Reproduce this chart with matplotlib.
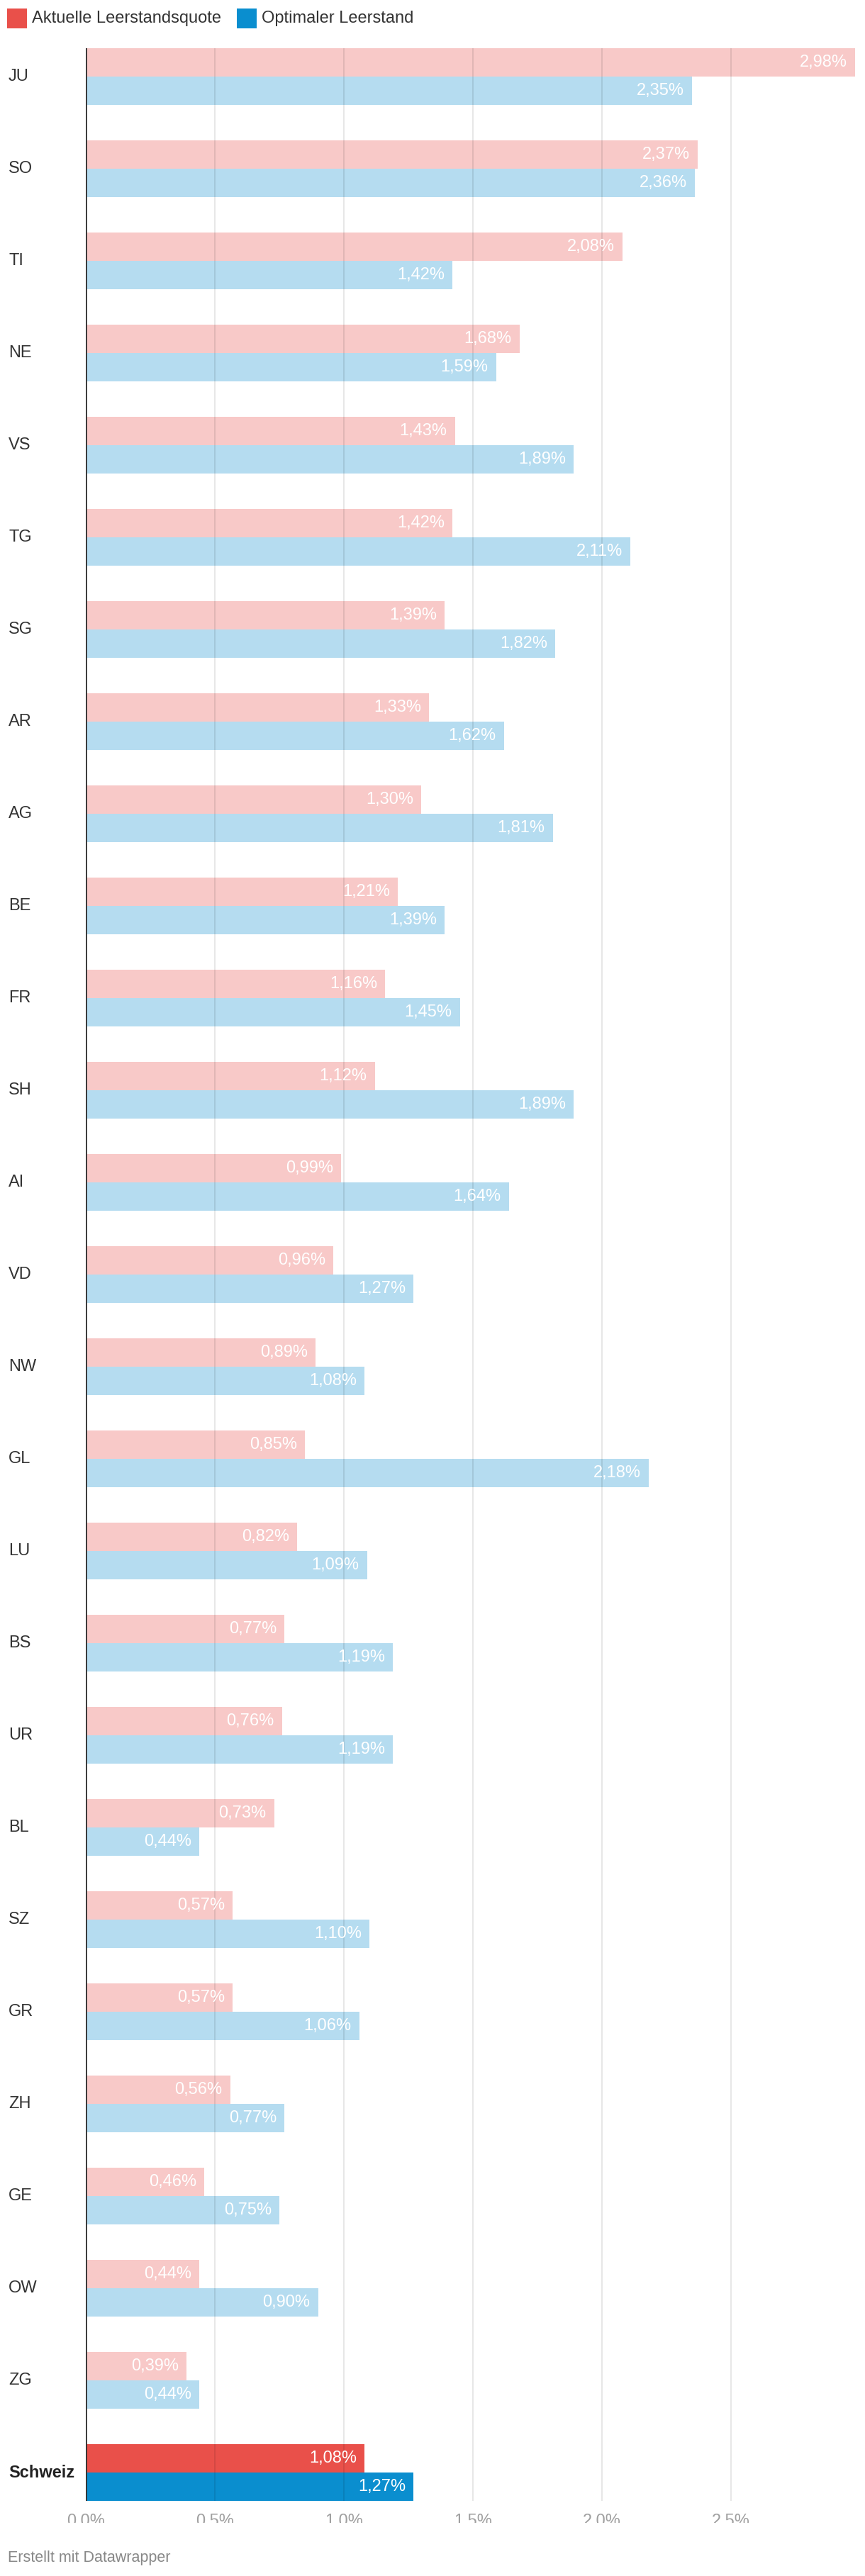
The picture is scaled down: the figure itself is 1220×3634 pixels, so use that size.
import matplotlib
matplotlib.use('Agg')
import matplotlib.pyplot as plt
import matplotlib.transforms as mtransforms
from matplotlib.patches import Rectangle
import numpy as np

plt.rcParams['font.family'] = ['Liberation Sans', 'DejaVu Sans']

# data
kantone = ['JU', 'SO', 'TI', 'NE', 'VS', 'TG', 'SG', 'AR', 'AG', 'BE', 'FR', 'SH', 'AI',
           'VD', 'NW', 'GL', 'LU', 'BS', 'UR', 'BL', 'SZ', 'GR', 'ZH', 'GE', 'OW', 'ZG',
           'Schweiz']
aktuell = [2.98, 2.37, 2.08, 1.68, 1.43, 1.42, 1.39, 1.33, 1.30, 1.21, 1.16, 1.12, 0.99,
           0.96, 0.89, 0.85, 0.82, 0.77, 0.76, 0.73, 0.57, 0.57, 0.56, 0.46, 0.44, 0.39,
           1.08]
optimal = [2.35, 2.36, 1.42, 1.59, 1.89, 2.11, 1.82, 1.62, 1.81, 1.39, 1.45, 1.89, 1.64,
           1.27, 1.08, 2.18, 1.09, 1.19, 1.19, 0.44, 1.10, 1.06, 0.77, 0.75, 0.90, 0.44,
           1.27]
series_names = ['Aktuelle Leerstandsquote', 'Optimaler Leerstand']
x_ticks = [0.0, 0.5, 1.0, 1.5, 2.0, 2.5]
x_tick_labels = ['0.0%', '0.5%', '1.0%', '1.5%', '2.0%', '2.5%']

RED = '#e9504a'
BLUE = '#0a8ecf'
RED_LIGHT = '#f8c9c8'
BLUE_LIGHT = '#b5dcf0'
TEXT = '#333333'

W, H = 1220, 3634


def fx(px):
    return px / W


def fy(py):
    return 1 - py / H


fig = plt.figure(figsize=(W / 100, H / 100), dpi=100)
ax = fig.add_axes([fx(121), fy(3528), (1213 - 121) / W, (3528 - 68) / H])

n = len(kantone)
pos = np.arange(n)
bh = 40 / 130
red_cols = [RED_LIGHT] * (n - 1) + [RED]
blue_cols = [BLUE_LIGHT] * (n - 1) + [BLUE]

ax.barh(pos - bh / 2, aktuell, height=bh, color=red_cols, linewidth=0, zorder=1)
ax.barh(pos + bh / 2, optimal, height=bh, color=blue_cols, linewidth=0, zorder=1)

ax.set_xlim(0, 3.0)
ax.set_ylim(n - 1 + bh, -bh)
ax.set_axis_off()

# grid on top of the bars
for t in x_ticks[1:]:
    ax.axvline(t, color='black', alpha=0.1, lw=1.3, zorder=3)
ax.axvline(0, color=TEXT, lw=2.0, zorder=4)


def fmt(v):
    return f'{v:.2f}'.replace('.', ',') + '%'


for i in range(n):
    for v, y in ((aktuell[i], pos[i] - bh / 2), (optimal[i], pos[i] + bh / 2)):
        ax.annotate(fmt(v), xy=(v, y), xytext=(-8, 0), textcoords='offset points',
                    ha='right', va='center', color='white', fontsize=17, zorder=5)

# category labels
lab_tr = mtransforms.blended_transform_factory(fig.transFigure, ax.transData)
for i, k in enumerate(kantone):
    ax.text(fx(12), pos[i], k, transform=lab_tr, ha='left', va='center',
            fontsize=17, color=TEXT if k != 'Schweiz' else '#222222',
            fontweight='bold' if k == 'Schweiz' else 'normal', clip_on=False)

# x tick labels (cut off at the bottom like the original)
tick_tr = mtransforms.blended_transform_factory(ax.transData, fig.transFigure)
clip = mtransforms.TransformedBbox(
    mtransforms.Bbox.from_extents(0, fy(3559), 1, fy(3528)), fig.transFigure)
for t, lab in zip(x_ticks, x_tick_labels):
    txt = ax.text(t, fy(3563), lab, transform=tick_tr, ha='center', va='baseline',
                  fontsize=17, color='#a0a0a0')
    txt.set_clip_box(clip)
    txt.set_clip_on(True)

# legend
fig.patches.append(Rectangle((fx(10), fy(40)), 28 / W, 28 / H, transform=fig.transFigure,
                             color=RED, linewidth=0))
fig.text(fx(45), fy(26), series_names[0], ha='left', va='center', fontsize=17, color=TEXT)
fig.patches.append(Rectangle((fx(334), fy(40)), 28 / W, 28 / H, transform=fig.transFigure,
                             color=BLUE, linewidth=0))
fig.text(fx(369), fy(26), series_names[1], ha='left', va='center', fontsize=17, color=TEXT)

# footer
fig.text(fx(11), fy(3608), 'Erstellt mit Datawrapper', ha='left', va='center',
         fontsize=15.5, color='#888888')

fig.savefig('out.png', dpi=100, facecolor='white')
